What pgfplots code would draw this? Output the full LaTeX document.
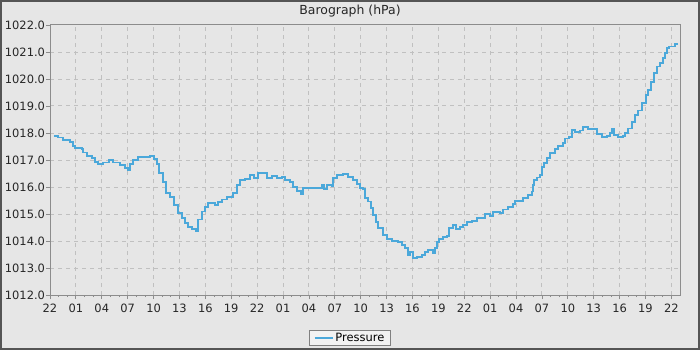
\documentclass[border=0pt]{standalone}
\usepackage{pgfplots}
\pgfplotsset{compat=1.18}
\usepackage{fontspec}
\setmainfont{DejaVu Sans}
\definecolor{bg}{HTML}{E6E6E6}
\definecolor{framec}{HTML}{555555}
\definecolor{gridc}{HTML}{C0C0C0}
\definecolor{axc}{HTML}{8C8C8C}
\definecolor{linec}{HTML}{4BA8DA}
\definecolor{legfill}{HTML}{F2F2F2}
\begin{document}
\begin{tikzpicture}[x=1bp,y=1bp]
\fill[framec] (0,0) rectangle (700,350);
\fill[bg] (2,2) rectangle (698,348);
\useasboundingbox (0,0) rectangle (700,350);
\node[font=\fontsize{12.5}{14}\selectfont, text=black!85, anchor=center] at (350,339) {Barograph (hPa)};
\begin{axis}[
  at={(50bp,55bp)}, anchor=south west,
  scale only axis, width=630bp, height=270bp,
  xmin=0, xmax=73, ymin=1012, ymax=1022,
  xtick={0,3,...,72},
  xticklabels={22,01,04,07,10,13,16,19,22,01,04,07,10,13,16,19,22,01,04,07,10,13,16,19,22},
  minor x tick num=2,
  ytick={1012,1013,...,1022}, minor y tick num=1,
  xtick pos=bottom, ytick pos=left,
  tick align=outside,
  major tick length=4bp, minor tick length=2bp,
  tick style={axc, line width=0.8bp},
  axis line style={axc, line width=1bp},
  grid=major,
  major grid style={gridc, dash pattern=on 4bp off 4bp, line width=1bp},
  /pgf/number format/assume math mode=true,
  ticklabel style={font=\fontsize{11.5}{13}\selectfont, text=black!85},
  xticklabel style={yshift=-1.5bp},
  yticklabel style={xshift=2.5bp, /pgf/number format/.cd, fixed, fixed zerofill, precision=1, 1000 sep={}},
  legend style={at={(0.4762,-0.159)}, anchor=center, draw=gray, fill=legfill,
     font=\fontsize{11.5}{13}\selectfont, inner xsep=4bp, inner ysep=0.5bp, line width=0.8bp},
  legend image code/.code={\path (-2bp,0bp) -- (16bp,0bp); \draw[#1, line width=1.6bp] (0bp,0bp) -- (11bp,0bp);},
]
\addplot[const plot, color=linec, line width=1.8bp] coordinates {
(0.5,1017.90) (0.96,1017.83) (1.54,1017.74) (2.3,1017.68) (2.63,1017.53) (2.9,1017.43)
(3.67,1017.41) (3.86,1017.28) (4.25,1017.16) (4.83,1017.06) (5.21,1016.94) (5.6,1016.85)
(6.18,1016.91) (6.88,1017.00) (7.34,1016.91) (8.1,1016.81) (8.69,1016.71) (9.07,1016.63)
(9.27,1016.84) (9.66,1017.00) (10.2,1017.10) (11.0,1017.12) (11.6,1017.15) (12.05,1017.03)
(12.36,1016.84) (12.67,1016.51) (13.13,1016.20) (13.44,1015.77) (13.9,1015.64) (14.37,1015.33)
(14.87,1015.03) (15.26,1014.84) (15.64,1014.66) (16.03,1014.53) (16.42,1014.43) (16.88,1014.37)
(17.1,1014.37) (17.19,1014.80) (17.57,1015.09) (17.96,1015.27) (18.35,1015.40) (19.12,1015.33)
(19.5,1015.43) (19.9,1015.54) (20.47,1015.64) (21.24,1015.77) (21.63,1016.07) (22.0,1016.26)
(22.6,1016.29) (23.17,1016.44) (23.64,1016.32) (24.14,1016.53) (24.6,1016.53) (25.1,1016.32)
(25.69,1016.41) (26.27,1016.32) (26.85,1016.38) (27.23,1016.26) (27.8,1016.20) (28.2,1016.01)
(28.59,1015.86) (29.08,1015.74) (29.36,1015.95) (30.13,1015.95) (30.9,1015.95) (31.48,1016.07)
(31.75,1015.92) (32.06,1016.07) (32.64,1016.04) (32.83,1016.32) (33.21,1016.44) (33.99,1016.48)
(34.56,1016.36) (35.15,1016.26) (35.54,1016.11) (35.92,1015.95) (36.31,1015.92) (36.5,1015.58)
(36.89,1015.46) (37.16,1015.21) (37.47,1014.96) (37.78,1014.71) (38.05,1014.47) (38.63,1014.22)
(39.01,1014.06) (39.6,1014.00) (40.36,1013.97) (40.75,1013.85) (41.14,1013.73) (41.52,1013.48)
(41.71,1013.60) (42.1,1013.36) (42.49,1013.42) (43.07,1013.48) (43.45,1013.60) (43.84,1013.67)
(44.34,1013.57) (44.61,1013.73) (44.88,1013.97) (45.11,1014.06) (45.57,1014.16) (45.97,1014.19)
(46.27,1014.47) (46.66,1014.59) (47.04,1014.43) (47.51,1014.53) (47.89,1014.59) (48.28,1014.69)
(48.86,1014.75) (49.44,1014.86) (49.83,1014.84) (50.41,1014.99) (50.99,1014.93) (51.37,1015.06)
(52.14,1015.03) (52.53,1015.17) (53.11,1015.25) (53.62,1015.37) (53.88,1015.49) (54.46,1015.49)
(54.85,1015.58) (55.42,1015.70) (55.82,1015.83) (55.93,1016.07) (56.08,1016.26) (56.4,1016.35)
(56.78,1016.44) (56.97,1016.75) (57.24,1016.88) (57.55,1017.06) (57.94,1017.25) (58.52,1017.40)
(58.9,1017.52) (59.41,1017.64) (59.68,1017.80) (60.18,1017.86) (60.45,1018.11) (60.84,1018.05)
(61.41,1018.09) (61.8,1018.21) (62.38,1018.15) (62.96,1018.14) (63.35,1017.96) (63.93,1017.86)
(64.51,1017.89) (64.89,1017.99) (65.08,1018.14) (65.35,1017.93) (65.85,1017.84) (66.43,1017.89)
(66.63,1018.01) (67.01,1018.17) (67.4,1018.42) (67.79,1018.67) (68.17,1018.83) (68.56,1019.12)
(69.06,1019.41) (69.33,1019.59) (69.64,1019.90) (69.99,1020.21) (70.37,1020.46) (70.68,1020.58)
(71.0,1020.77) (71.26,1020.95) (71.53,1021.14) (71.76,1021.20) (72.23,1021.20) (72.42,1021.30)
(72.62,1021.32)
};
\addlegendentry{Pressure}
\end{axis}
\end{tikzpicture}
\end{document}
